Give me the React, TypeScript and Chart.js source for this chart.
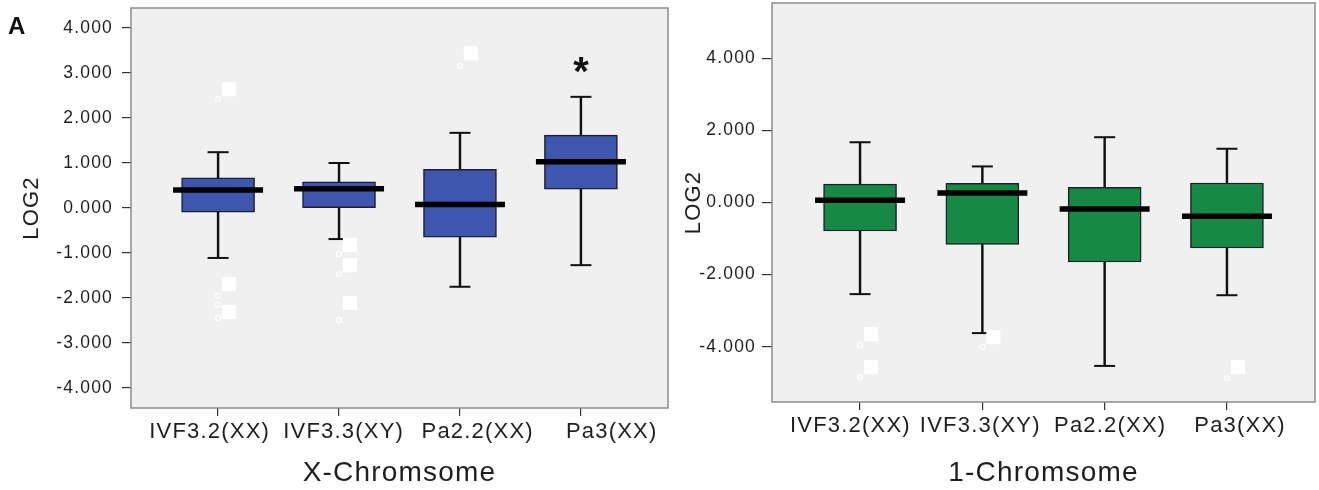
import React, { useEffect, useRef } from 'react';
import { Chart, registerables } from 'chart.js';

Chart.register(...registerables);

const categories = ['IVF3.2(XX)', 'IVF3.3(XY)', 'Pa2.2(XX)', 'Pa3(XX)'];

// Panel 1: X-Chromsome
const xLow = [-1.11, -0.69, -1.75, -1.27];
const xQ1 = [-0.09, 0.01, -0.65, 0.42];
const xMedian = [0.4, 0.43, 0.08, 1.03];
const xQ3 = [0.67, 0.58, 0.86, 1.62];
const xHigh = [1.24, 1.0, 1.67, 2.47];
const xOutlierCat = [0, 0, 0, 0, 1, 1, 1, 2];
const xOutlierVal = [2.42, -1.95, -2.15, -2.45, -1.02, -1.47, -2.49, 3.16];
const xLabelCat = [0, 0, 0, 1, 1, 1, 2];
const xLabelVal = [2.64, -1.69, -2.31, -0.82, -1.27, -2.11, 3.44];
const xSignificance = ['', '', '', '*'];
const xTicks = [-4, -3, -2, -1, 0, 1, 2, 3, 4];

// Panel 2: 1-Chromsome
const oneLow = [-2.54, -3.62, -4.53, -2.57];
const oneQ1 = [-0.79, -1.16, -1.65, -1.26];
const oneMedian = [0.06, 0.26, -0.18, -0.38];
const oneQ3 = [0.51, 0.53, 0.42, 0.54];
const oneHigh = [1.67, 1.0, 1.81, 1.49];
const oneOutlierCat = [0, 0, 1, 3];
const oneOutlierVal = [-3.95, -4.84, -4.0, -4.87];
const oneLabelCat = [0, 0, 1, 3];
const oneLabelVal = [-3.65, -4.56, -3.73, -4.56];
const oneSignificance = ['', '', '', ''];
const oneTicks = [-4, -2, 0, 2, 4];

const FONT = "'Liberation Sans', Arial, Helvetica, sans-serif";
const TEXT = '#1e1e1e';

type PanelProps = {
  low: number[];
  q1: number[];
  median: number[];
  q3: number[];
  high: number[];
  outCat: number[];
  outVal: number[];
  labCat: number[];
  labVal: number[];
  signif: string[];
  ticks: number[];
  yRange: number;
  color: string;
  title: string;
  left: number;
  width: number;
  padTop: number;
  yAxisWidth: number;
  xAxisHeight: number;
  yTickLen: number;
  yTickPad: number;
  yTitlePad: number;
  labelMin: number;
  labelMax: number;
  panelLetter?: string;
};

function zeroPad(s: any) {
  s.paddingLeft = 0;
  s.paddingRight = 0;
  s.paddingTop = 0;
  s.paddingBottom = 0;
}

function Panel(p: PanelProps) {
  const ref = useRef<HTMLCanvasElement | null>(null);
  useEffect(() => {
    const canvas = ref.current;
    if (!canvas) return;
    const idx = categories.map((_, i) => i);

    const decor = {
      id: 'decor',
      beforeDraw(chart: any) {
        const ctx = chart.ctx as any;
        if ('letterSpacing' in ctx) ctx.letterSpacing = '1.2px';
      },
      beforeDatasetsDraw(chart: any) {
        const { ctx, chartArea: a } = chart;
        ctx.save();
        ctx.fillStyle = '#f0f0f0';
        ctx.fillRect(a.left, a.top, a.right - a.left, a.bottom - a.top);
        ctx.restore();
      },
      afterDraw(chart: any) {
        const { ctx, chartArea: a } = chart;
        const ys = chart.scales.y;
        const xs = chart.scales.x;
        ctx.save();
        (ctx as any).letterSpacing = '0px';
        ctx.strokeStyle = '#8c8c8c';
        ctx.lineWidth = 1.5;
        ctx.strokeRect(a.left, a.top, a.right - a.left, a.bottom - a.top);
        ctx.fillStyle = '#111';
        ctx.font = `bold 40px ${FONT}`;
        ctx.textAlign = 'center';
        ctx.textBaseline = 'alphabetic';
        p.signif.forEach((s, i) => {
          if (!s) return;
          ctx.fillText(s, xs.getPixelForValue(i), ys.getPixelForValue(p.high[i]) - 12);
        });
        if (p.panelLetter) {
          ctx.font = `bold 24px ${FONT}`;
          ctx.textAlign = 'left';
          ctx.fillText(p.panelLetter, 8, 34);
        }
        ctx.restore();
      },
    };

    const chart = new Chart(canvas, {
      type: 'bar',
      data: {
        datasets: [
          {
            type: 'bar',
            data: idx.map((i) => ({ x: i, y: [p.low[i], p.q1[i]] })),
            backgroundColor: '#111',
            barThickness: 1.8,
            grouped: false,
            order: 5,
          } as any,
          {
            type: 'bar',
            data: idx.map((i) => ({ x: i, y: [p.q3[i], p.high[i]] })),
            backgroundColor: '#111',
            barThickness: 1.8,
            grouped: false,
            order: 5,
          } as any,
          {
            type: 'bar',
            data: idx.map((i) => ({ x: i, y: [p.q1[i], p.q3[i]] })),
            backgroundColor: p.color,
            borderColor: '#1c1f2e',
            borderWidth: 1.5,
            borderSkipped: false,
            barThickness: 73,
            grouped: false,
            order: 4,
          } as any,
          {
            type: 'scatter',
            data: idx.flatMap((i) => [
              { x: i, y: p.low[i] },
              { x: i, y: p.high[i] },
            ]),
            pointStyle: 'line',
            pointRadius: 10.5,
            borderColor: '#111',
            borderWidth: 2,
            order: 3,
          } as any,
          {
            type: 'scatter',
            data: idx.map((i) => ({ x: i, y: p.median[i] })),
            pointStyle: 'line',
            pointRadius: 45,
            borderColor: '#000',
            borderWidth: 5.5,
            order: 2,
          } as any,
          {
            type: 'scatter',
            data: p.outCat.map((c, k) => ({ x: c, y: p.outVal[k] })),
            pointStyle: 'circle',
            pointRadius: 2.5,
            borderColor: '#ffffff',
            backgroundColor: 'rgba(0,0,0,0)',
            borderWidth: 1.2,
            order: 1,
          } as any,
          {
            type: 'scatter',
            data: p.labCat.map((c, k) => ({ x: c + 0.09, y: p.labVal[k] })),
            pointStyle: 'rect',
            pointRadius: 10,
            borderColor: '#ffffff',
            backgroundColor: '#ffffff',
            borderWidth: 0,
            order: 0,
          } as any,
        ],
      },
      options: {
        responsive: false,
        animation: false,
        events: [],
        layout: { autoPadding: false, padding: { top: p.padTop, right: 4, left: 0, bottom: 0 } },
        plugins: { legend: { display: false }, tooltip: { enabled: false } },
        scales: {
          x: {
            type: 'linear',
            position: 'bottom',
            weight: 0,
            min: -0.72,
            max: 3.72,
            offset: false,
            afterBuildTicks: (s: any) => {
              s.ticks = idx.map((v) => ({ value: v }));
            },
            afterFit: (s: any) => {
              s.height = 8;
              zeroPad(s);
            },
            ticks: { display: false },
            grid: {
              offset: false,
              drawOnChartArea: false,
              drawTicks: true,
              tickLength: 8,
              color: '#333',
              lineWidth: 1.2,
            },
            border: { display: false },
          },
          xl: {
            type: 'linear',
            position: 'bottom',
            weight: 1,
            min: p.labelMin,
            max: p.labelMax,
            offset: false,
            afterBuildTicks: (s: any) => {
              s.ticks = idx.map((v) => ({ value: v }));
            },
            afterFit: (s: any) => {
              s.height = p.xAxisHeight - 8;
              zeroPad(s);
            },
            ticks: {
              autoSkip: false,
              maxRotation: 0,
              minRotation: 0,
              padding: 3,
              color: TEXT,
              font: { family: FONT, size: 22 },
              callback: (v: any) => categories[Math.round(Number(v))] ?? '',
            },
            grid: { display: false, drawTicks: false, offset: false },
            border: { display: false },
            title: {
              display: true,
              text: p.title,
              color: TEXT,
              font: { family: FONT, size: 28, lineHeight: 1.2 },
              padding: { top: 0, bottom: 0 },
            },
          },
          y: {
            type: 'linear',
            min: -p.yRange,
            max: p.yRange,
            afterBuildTicks: (s: any) => {
              s.ticks = p.ticks.map((v) => ({ value: v }));
            },
            afterFit: (s: any) => {
              s.width = p.yAxisWidth;
              zeroPad(s);
            },
            ticks: {
              padding: p.yTickPad,
              color: TEXT,
              font: { family: FONT, size: 17.5 },
              callback: (v: any) => Number(v).toFixed(3),
            },
            grid: {
              drawOnChartArea: false,
              drawTicks: true,
              tickLength: p.yTickLen,
              color: '#333',
              lineWidth: 1.2,
            },
            border: { display: false },
            title: {
              display: true,
              text: 'LOG2',
              color: TEXT,
              font: { family: FONT, size: 22, lineHeight: 1.2 },
              padding: { top: p.yTitlePad, bottom: 0 },
            },
          },
        },
      },
      plugins: [decor],
    } as any);
    return () => chart.destroy();
  }, []);
  return (
    <canvas
      ref={ref}
      width={p.width}
      height={490}
      style={{ position: 'absolute', left: p.left, top: 0, width: p.width, height: 490, display: 'block' }}
    />
  );
}

export default function App() {
  return (
    <div style={{ position: 'fixed', left: 0, top: 0, width: 1319, height: 490, background: '#ffffff', overflow: 'hidden' }}>
      <Panel
        low={xLow}
        q1={xQ1}
        median={xMedian}
        q3={xQ3}
        high={xHigh}
        outCat={xOutlierCat}
        outVal={xOutlierVal}
        labCat={xLabelCat}
        labVal={xLabelVal}
        signif={xSignificance}
        ticks={xTicks}
        yRange={4.444}
        color="#3f56ae"
        title="X-Chromsome"
        left={0}
        width={672}
        padTop={8}
        yAxisWidth={131}
        xAxisHeight={82}
        yTickLen={9}
        yTickPad={9}
        yTitlePad={19}
        labelMin={-0.587}
        labelMax={3.42}
        panelLetter="A"
      />
      <Panel
        low={oneLow}
        q1={oneQ1}
        median={oneMedian}
        q3={oneQ3}
        high={oneHigh}
        outCat={oneOutlierCat}
        outVal={oneOutlierVal}
        labCat={oneLabelCat}
        labVal={oneLabelVal}
        signif={oneSignificance}
        ticks={oneTicks}
        yRange={5.53}
        color="#168a45"
        title="1-Chromsome"
        left={672}
        width={647}
        padTop={3}
        yAxisWidth={100}
        xAxisHeight={88}
        yTickLen={10}
        yTickPad={6}
        yTitlePad={9}
        labelMin={-0.6035}
        labelMax={3.577}
      />
    </div>
  );
}
